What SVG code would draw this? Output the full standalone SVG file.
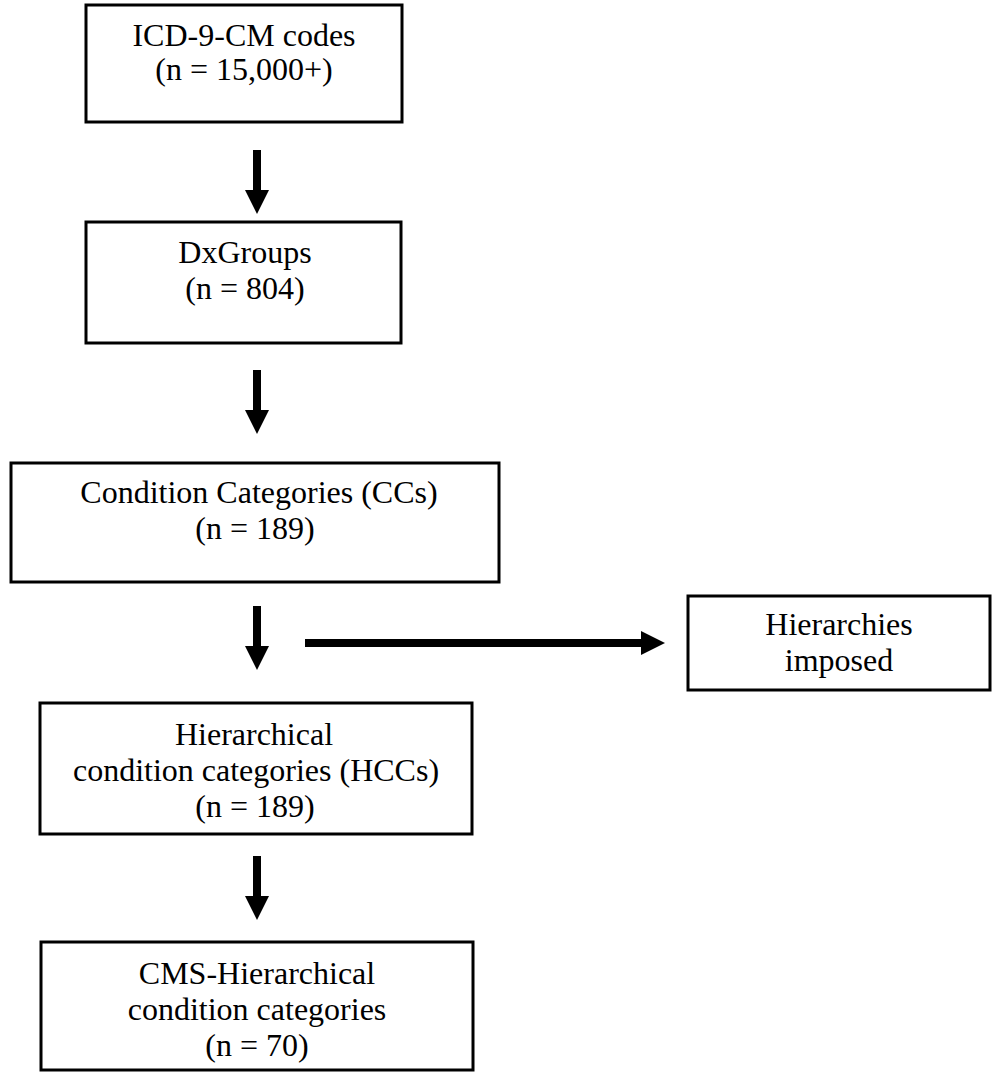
<svg xmlns="http://www.w3.org/2000/svg" width="992" height="1072" viewBox="0 0 992 1072">
<defs>
<style>
.box{fill:#fff;stroke:#000;stroke-width:3}
.t{font-family:"Liberation Serif","Times New Roman",serif;font-size:32px;fill:#000;text-anchor:middle}
.c{stroke:#000;stroke-width:8;fill:none;marker-end:url(#ah)}
</style>
<marker id="ah" markerUnits="userSpaceOnUse" viewBox="0 0 24 24" markerWidth="24" markerHeight="24" refX="0" refY="12" orient="auto">
<path d="M0,0 L24,12 L0,24 z" fill="#000"/>
</marker>
</defs>
<rect width="992" height="1072" fill="#fff"/>
<g id="n1">
<rect class="box" x="86" y="5" width="316" height="117"/>
<text class="t" x="244" y="46">ICD-9-CM codes</text>
<text class="t" x="244" y="80">(n = 15,000+)</text>
</g>
<g id="n2">
<rect class="box" x="86" y="222" width="315" height="121"/>
<text class="t" x="245" y="263">DxGroups</text>
<text class="t" x="245" y="299">(n = 804)</text>
</g>
<g id="n3">
<rect class="box" x="11" y="463" width="488" height="119"/>
<text class="t" x="259" y="503">Condition Categories (CCs)</text>
<text class="t" x="255" y="539">(n = 189)</text>
</g>
<g id="n4">
<rect class="box" x="688" y="596" width="302" height="94"/>
<text class="t" x="839" y="635">Hierarchies</text>
<text class="t" x="839" y="671">imposed</text>
</g>
<g id="n5">
<rect class="box" x="40" y="703" width="432" height="131"/>
<text class="t" x="254" y="745">Hierarchical</text>
<text class="t" x="256" y="781">condition categories (HCCs)</text>
<text class="t" x="255" y="817">(n = 189)</text>
</g>
<g id="n6">
<rect class="box" x="41" y="942" width="432" height="128"/>
<text class="t" x="257" y="984">CMS-Hierarchical</text>
<text class="t" x="257" y="1020">condition categories</text>
<text class="t" x="257" y="1056">(n = 70)</text>
</g>
<g id="connectors">
<line class="c" x1="257" y1="150" x2="257" y2="190"/>
<line class="c" x1="257" y1="370" x2="257" y2="410"/>
<line class="c" x1="257" y1="606" x2="257" y2="646"/>
<line class="c" x1="257" y1="856" x2="257" y2="896"/>
<line class="c" x1="305" y1="643" x2="641" y2="643"/>
</g>
</svg>
